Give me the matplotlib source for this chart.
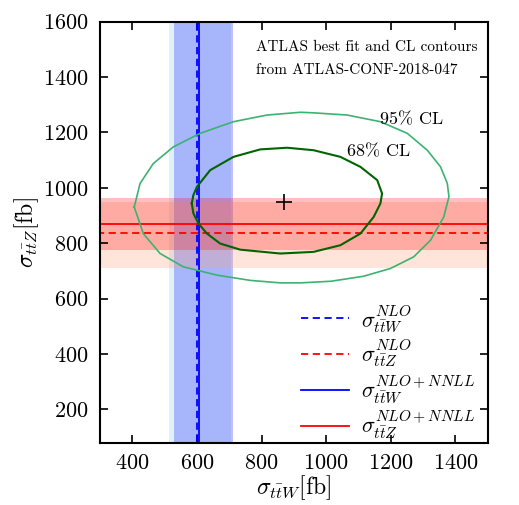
import numpy as np
import matplotlib
matplotlib.use("Agg")
import matplotlib.pyplot as plt

plt.rcParams['font.family'] = 'cmr10'
plt.rcParams['mathtext.fontset'] = 'cm'
plt.rcParams['axes.formatter.use_mathtext'] = True

# theory predictions (fb): central value and band edges
ttw_nlo = 600
ttw_nlo_band = (514, 706)
ttw_nnll = 605
ttw_nnll_band = (529, 711)
ttz_nlo = 837
ttz_nlo_band = (712, 950)
ttz_nnll = 871
ttz_nnll_band = (775, 962)

# ATLAS best fit (fb)
best_ttw = 870
best_ttz = 950

# contours (sigma_ttW, sigma_ttZ) in fb
cl68_x = [584, 589, 600, 641, 713, 796, 879, 961, 1044, 1106, 1158, 1173, 1168,
          1147, 1106, 1044, 961, 858, 734, 672, 631, 605, 589, 584]
cl68_y = [944, 974, 1004, 1064, 1112, 1139, 1145, 1136, 1112, 1076, 1028, 980, 944,
          895, 835, 793, 769, 763, 777, 799, 835, 871, 908, 944]
cl95_x = [406, 424, 465, 527, 610, 713, 817, 920, 961, 1065, 1168, 1251, 1313, 1354,
          1375, 1380, 1364, 1323, 1271, 1199, 1116, 1016, 920, 858, 765, 662, 558,
          486, 434, 406]
cl95_y = [931, 1016, 1088, 1148, 1197, 1239, 1263, 1273, 1271, 1263, 1239, 1197, 1136, 1076,
          1016, 968, 895, 811, 751, 709, 681, 663, 657, 657, 666, 685, 715,
          763, 835, 931]

fig = plt.figure(figsize=(5.19, 5.05), dpi=100)
ax = fig.add_axes([0.1927, 0.1234, 0.747, 0.8336])

# bands
ax.axvspan(*ttw_nlo_band, color='#87ceeb', alpha=0.25, lw=0)
ax.axvspan(*ttw_nnll_band, color='blue', alpha=0.25, lw=0)
ax.axhspan(*ttz_nlo_band, color='lightsalmon', alpha=0.28, lw=0)
ax.axhspan(*ttz_nnll_band, color='red', alpha=0.25, lw=0)

# central values
l1, = ax.plot([ttw_nlo, ttw_nlo], [0, 2000], color='blue', ls='--', lw=1.3, dashes=(4, 2.5))
l2, = ax.plot([0, 2000], [ttz_nlo, ttz_nlo], color='red', ls='--', lw=1.3, dashes=(4, 2.5))
l3, = ax.plot([ttw_nnll, ttw_nnll], [0, 2000], color='blue', lw=1.3)
l4, = ax.plot([0, 2000], [ttz_nnll, ttz_nnll], color='red', lw=1.3)

# contours
ax.plot(cl95_x, cl95_y, color='#3cb371', lw=1.2, solid_joinstyle='round')
ax.plot(cl68_x, cl68_y, color='darkgreen', lw=1.5, solid_joinstyle='round')
ax.plot(best_ttw, best_ttz, marker='+', color='black', ms=12, mew=1.2)

ax.text(1168, 1230, '95% CL', fontsize=13, va='baseline')
ax.text(1066, 1115, '68% CL', fontsize=13, va='baseline')
ax.text(0.402, 0.955, 'ATLAS best fit and CL contours\nfrom ATLAS-CONF-2018-047',
        transform=ax.transAxes, fontsize=11, va='top', ha='left', linespacing=1.8)

ax.set_xlim(300, 1500)
ax.set_ylim(80, 1600)
ax.set_xticks([400, 600, 800, 1000, 1200, 1400])
ax.set_yticks([200, 400, 600, 800, 1000, 1200, 1400, 1600])
ax.tick_params(direction='in', length=6, width=1.2, top=True, right=True,
               labelsize=16, pad=8)
for s in ax.spines.values():
    s.set_linewidth(1.5)

ax.set_xlabel(r'$\sigma_{t\bar{t}W}$[fb]', fontsize=17, labelpad=0)
ax.set_ylabel(r'$\sigma_{t\bar{t}Z}$[fb]', fontsize=17, labelpad=2)

ax.legend([l1, l2, l3, l4],
          [r'$\sigma^{NLO}_{t\bar{t}W}$', r'$\sigma^{NLO}_{t\bar{t}Z}$',
           r'$\sigma^{NLO+NNLL}_{t\bar{t}W}$', r'$\sigma^{NLO+NNLL}_{t\bar{t}Z}$'],
          loc='lower right', frameon=False, fontsize=16, handlelength=2.2,
          handletextpad=0.5, labelspacing=0.18, borderaxespad=0.0,
          bbox_to_anchor=(0.99, -0.018))

fig.savefig('out.png', dpi=100)
